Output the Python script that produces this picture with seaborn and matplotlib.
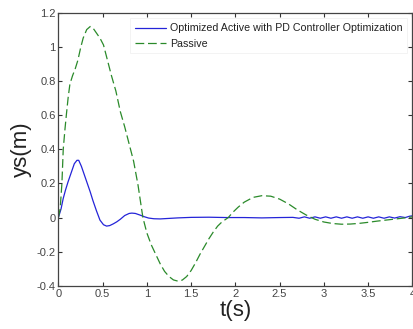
import matplotlib
matplotlib.use("Agg")
import matplotlib.pyplot as plt
import seaborn as sns
import pandas as pd

# Time (s) and displacement ys (m)
t_active = [0, 0.03, 0.054, 0.08, 0.11, 0.15, 0.18, 0.21, 0.23, 0.26, 0.29, 0.32,
            0.36, 0.39, 0.43, 0.47, 0.51, 0.545, 0.58, 0.62, 0.66, 0.70, 0.75, 0.80,
            0.83, 0.87, 0.92, 0.97, 1.02, 1.08, 1.15, 1.25, 1.35, 1.5, 1.7, 1.9, 2.1,
            2.3, 2.5, 2.65, 2.72, 2.78, 2.84, 2.90, 2.96, 3.02, 3.08, 3.14, 3.20, 3.26,
            3.32, 3.38, 3.44, 3.50, 3.56, 3.62, 3.68, 3.74, 3.80, 3.86, 3.92, 3.97, 4.0]
ys_active = [0, 0.05, 0.11, 0.16, 0.21, 0.27, 0.315, 0.335, 0.335, 0.30, 0.255, 0.21,
             0.15, 0.10, 0.04, -0.015, -0.042, -0.05, -0.047, -0.037, -0.025, -0.01,
             0.012, 0.024, 0.026, 0.024, 0.015, 0.005, -0.003, -0.007, -0.008, -0.005,
             -0.002, 0.001, 0.002, 0.0, 0.0, -0.002, 0.0, 0.001, -0.004, 0.004, -0.004,
             0.004, -0.004, 0.004, -0.004, 0.004, -0.004, 0.004, -0.004, 0.004, -0.004,
             0.004, -0.004, 0.004, -0.004, 0.004, -0.003, 0.005, 0.0, 0.008, 0.01]

t_passive = [0, 0.02, 0.04, 0.055, 0.075, 0.09, 0.11, 0.13, 0.16, 0.19, 0.22, 0.25,
             0.28, 0.32, 0.36, 0.39, 0.43, 0.47, 0.51, 0.55, 0.60, 0.65, 0.70, 0.75,
             0.80, 0.85, 0.90, 0.955, 1.00, 1.05, 1.10, 1.15, 1.20, 1.25, 1.30, 1.35,
             1.40, 1.45, 1.50, 1.55, 1.60, 1.65, 1.70, 1.75, 1.80, 1.85, 1.92, 1.97,
             2.03, 2.10, 2.20, 2.30, 2.40, 2.50, 2.60, 2.70, 2.80, 2.90, 3.00, 3.10,
             3.20, 3.30, 3.40, 3.50, 3.60, 3.70, 3.80, 3.90, 4.00]
ys_passive = [0, 0.05, 0.2, 0.4, 0.52, 0.6, 0.7, 0.78, 0.83, 0.87, 0.92, 0.99,
              1.05, 1.10, 1.118, 1.11, 1.08, 1.05, 1.01, 0.93, 0.83, 0.74, 0.62, 0.53,
              0.43, 0.33, 0.19, 0.0, -0.09, -0.16, -0.215, -0.27, -0.315, -0.345,
              -0.365, -0.372, -0.366, -0.345, -0.31, -0.265, -0.215, -0.17, -0.125,
              -0.085, -0.05, -0.025, 0.0, 0.03, 0.06, 0.09, 0.118, 0.128, 0.125,
              0.108, 0.08, 0.045, 0.015, -0.01, -0.026, -0.035, -0.039, -0.038,
              -0.034, -0.028, -0.021, -0.015, -0.009, -0.003, 0.004]

labels = ["Optimized Active with PD Controller Optimization", "Passive"]
x_ticks = [0, 0.5, 1, 1.5, 2, 2.5, 3, 3.5, 4]
x_ticklabels = ["0", "0.5", "1", "1.5", "2", "2.5", "3", "3.5", "4"]
y_ticks = [-0.4, -0.2, 0, 0.2, 0.4, 0.6, 0.8, 1, 1.2]
y_ticklabels = ["-0.4", "-0.2", "0", "0.2", "0.4", "0.6", "0.8", "1", "1.2"]

sns.set_style("white")
plt.rcParams["font.family"] = ["Liberation Sans", "DejaVu Sans"]

df_a = pd.DataFrame({"t": t_active, "ys": ys_active})
df_p = pd.DataFrame({"t": t_passive, "ys": ys_passive})

fig = plt.figure(figsize=(4.14, 3.29), dpi=100)
ax = fig.add_axes([0.141, 0.131, 0.855, 0.831])

sns.lineplot(data=df_a, x="t", y="ys", ax=ax, color="#2424d8", lw=0.9,
             sort=False, estimator=None, label=labels[0])
sns.lineplot(data=df_p, x="t", y="ys", ax=ax, color="#2a8a2a", lw=0.9,
             sort=False, estimator=None, label=labels[1], linestyle=(0, (7, 3)))

ax.set_xlim(0, 4)
ax.set_ylim(-0.4, 1.2)
ax.set_xticks(x_ticks)
ax.set_xticklabels(x_ticklabels)
ax.set_yticks(y_ticks)
ax.set_yticklabels(y_ticklabels)
ax.tick_params(direction="in", length=3, width=0.8, colors="#333333",
               labelsize=8, labelcolor="#444444", top=True, right=True,
               bottom=True, left=True, pad=2)
for s in ax.spines.values():
    s.set_color("#444444")
    s.set_linewidth(0.9)

ax.set_xlabel("t(s)", fontsize=16, color="#222222", labelpad=1)
ax.set_ylabel("ys(m)", fontsize=16, color="#222222", labelpad=3)

leg = ax.legend(loc="upper right", bbox_to_anchor=(0.995, 0.99), fontsize=7.7,
                frameon=True, fancybox=False, borderaxespad=0.3, handlelength=2.9,
                handletextpad=0.4, labelspacing=0.5, borderpad=0.45)
leg.get_frame().set_edgecolor("#eeeeee")
leg.get_frame().set_linewidth(0.6)
for txt in leg.get_texts():
    txt.set_color("#222222")

fig.savefig("out.png", dpi=100)
